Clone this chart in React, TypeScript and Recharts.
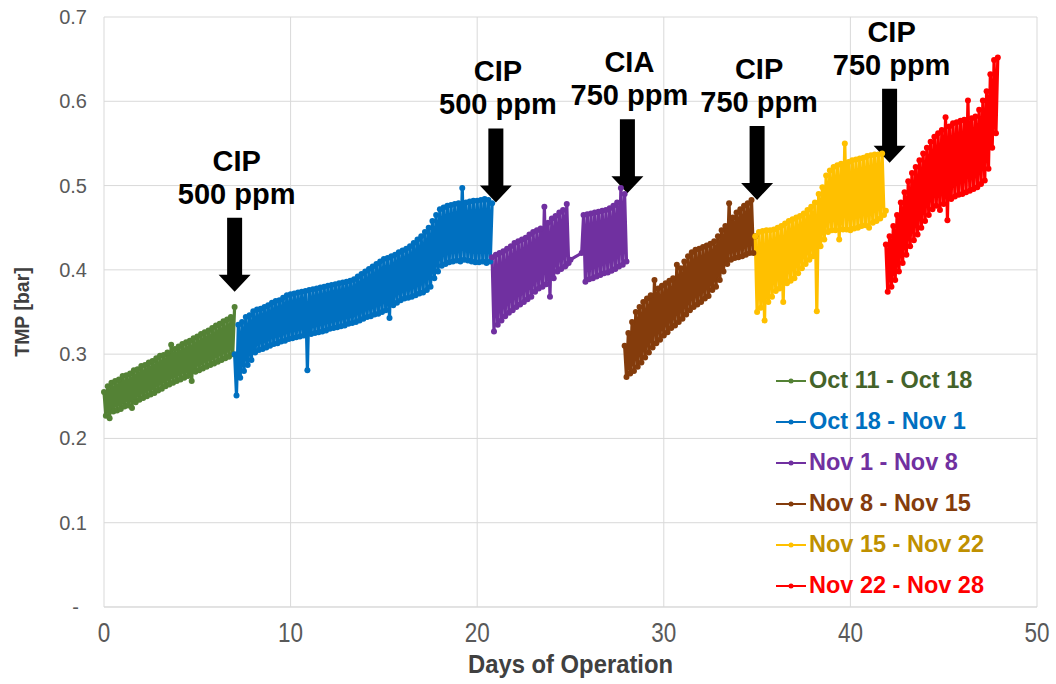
import React from 'react';
import { LineChart, Line, XAxis, YAxis, CartesianGrid, Legend, ReferenceDot } from 'recharts';

// readings are plotted every 0.1 day
const STEP = 0.1;

const greenStart = 0;
const greenTmp = [
  0.255, 0.227, 0.262, 0.224, 0.266, 0.232, 0.268, 0.233, 0.27, 0.235,
  0.274, 0.238, 0.275, 0.239, 0.277, 0.236, 0.281, 0.243, 0.282, 0.246,
  0.286, 0.248, 0.287, 0.25, 0.29, 0.252, 0.292, 0.254, 0.295, 0.257,
  0.298, 0.259, 0.299, 0.262, 0.302, 0.264, 0.311, 0.266, 0.306, 0.268,
  0.309, 0.27, 0.312, 0.272, 0.314, 0.274, 0.316, 0.268, 0.319, 0.279,
  0.321, 0.281, 0.324, 0.283, 0.326, 0.285, 0.328, 0.287, 0.331, 0.289,
  0.334, 0.291, 0.336, 0.293, 0.339, 0.295, 0.341, 0.297, 0.344, 0.3,
  0.356,
];

const blueStart = 7.0;
const blueTmp = [
  0.3, 0.251, 0.335, 0.272, 0.338, 0.28, 0.344, 0.287, 0.346, 0.293,
  0.351, 0.302, 0.353, 0.305, 0.354, 0.306, 0.356, 0.308, 0.358, 0.31,
  0.361, 0.312, 0.363, 0.313, 0.364, 0.315, 0.367, 0.316, 0.37, 0.318,
  0.371, 0.319, 0.372, 0.32, 0.373, 0.321, 0.374, 0.322, 0.375, 0.281,
  0.376, 0.324, 0.377, 0.325, 0.378, 0.326, 0.379, 0.327, 0.38, 0.328,
  0.381, 0.33, 0.382, 0.331, 0.383, 0.332, 0.384, 0.333, 0.385, 0.334,
  0.386, 0.336, 0.387, 0.337, 0.389, 0.338, 0.392, 0.34, 0.395, 0.342,
  0.398, 0.344, 0.401, 0.345, 0.404, 0.347, 0.407, 0.348, 0.41, 0.35,
  0.413, 0.352, 0.414, 0.343, 0.416, 0.358, 0.418, 0.361, 0.421, 0.364,
  0.423, 0.366, 0.425, 0.367, 0.428, 0.368, 0.432, 0.37, 0.436, 0.372,
  0.44, 0.373, 0.445, 0.376, 0.45, 0.38, 0.458, 0.39, 0.465, 0.398,
  0.472, 0.405, 0.474, 0.407, 0.476, 0.409, 0.477, 0.41, 0.478, 0.411,
  0.479, 0.41, 0.497, 0.412, 0.48, 0.411, 0.481, 0.41, 0.482, 0.409,
  0.482, 0.409, 0.483, 0.41, 0.484, 0.408, 0.483, 0.41, 0.479,
];

const purpleStartA = 20.8;
const purpleTmpA = [
  0.415, 0.327, 0.418, 0.335, 0.42, 0.34, 0.422, 0.345, 0.425, 0.349,
  0.428, 0.352, 0.432, 0.356, 0.434, 0.359, 0.436, 0.362, 0.438, 0.365,
  0.442, 0.368, 0.445, 0.374, 0.447, 0.378, 0.449, 0.38, 0.475, 0.383,
  0.456, 0.368, 0.461, 0.39, 0.464, 0.398, 0.468, 0.401, 0.471, 0.404,
  0.478, 0.408, 0.412,
];
const purpleStartB = 25.6;
const purpleTmpB = [
  0.42, 0.465, 0.386, 0.466, 0.389, 0.467, 0.39, 0.468, 0.392, 0.469,
  0.394, 0.47, 0.396, 0.471, 0.397, 0.473, 0.399, 0.476, 0.401, 0.48,
  0.404, 0.497, 0.406, 0.49, 0.41,
];

const brownStart = 27.9;
const brownTmp = [
  0.31, 0.273, 0.325, 0.277, 0.338, 0.28, 0.35, 0.285, 0.356, 0.29,
  0.362, 0.296, 0.366, 0.302, 0.37, 0.308, 0.388, 0.313, 0.378, 0.317,
  0.381, 0.322, 0.384, 0.326, 0.387, 0.331, 0.39, 0.334, 0.406, 0.338,
  0.402, 0.342, 0.41, 0.347, 0.416, 0.352, 0.421, 0.356, 0.424, 0.359,
  0.425, 0.362, 0.427, 0.366, 0.429, 0.369, 0.431, 0.376, 0.434, 0.38,
  0.44, 0.388, 0.447, 0.398, 0.452, 0.407, 0.479, 0.412, 0.462, 0.414,
  0.468, 0.415, 0.472, 0.416, 0.476, 0.418, 0.479, 0.42, 0.483, 0.42,
  0.44,
];

const yellowStart = 34.9;
const yellowTmp = [
  0.44, 0.35, 0.445, 0.355, 0.446, 0.34, 0.447, 0.362, 0.447, 0.368,
  0.448, 0.375, 0.45, 0.378, 0.452, 0.362, 0.455, 0.384, 0.458, 0.387,
  0.46, 0.39, 0.462, 0.396, 0.464, 0.402, 0.467, 0.407, 0.471, 0.412,
  0.475, 0.416, 0.48, 0.351, 0.49, 0.428, 0.498, 0.436, 0.512, 0.445,
  0.518, 0.447, 0.522, 0.447, 0.524, 0.436, 0.526, 0.448, 0.55, 0.448,
  0.528, 0.447, 0.53, 0.449, 0.531, 0.45, 0.532, 0.452, 0.533, 0.453,
  0.535, 0.45, 0.536, 0.456, 0.537, 0.458, 0.537, 0.461, 0.538, 0.465,
  0.47,
];

const redStart = 41.9;
const redTmp = [
  0.43, 0.374, 0.44, 0.38, 0.452, 0.388, 0.465, 0.398, 0.48, 0.408,
  0.492, 0.418, 0.505, 0.428, 0.515, 0.435, 0.522, 0.442, 0.53, 0.45,
  0.538, 0.458, 0.545, 0.465, 0.552, 0.472, 0.558, 0.476, 0.562, 0.471,
  0.566, 0.478, 0.581, 0.459, 0.57, 0.484, 0.574, 0.487, 0.575, 0.489,
  0.577, 0.49, 0.578, 0.492, 0.601, 0.494, 0.58, 0.496, 0.582, 0.498,
  0.59, 0.502, 0.601, 0.506, 0.612, 0.52, 0.632, 0.545, 0.649, 0.562,
  0.652,
];

const periodNames = [
  'Oct 11 - Oct 18',
  'Oct 18 - Nov 1',
  'Nov 1 - Nov 8',
  'Nov 8 - Nov 15',
  'Nov 15 - Nov 22',
  'Nov 22 - Nov 28',
];

const xTicks = [0, 10, 20, 30, 40, 50];
const yTicks = [0, 0.1, 0.2, 0.3, 0.4, 0.5, 0.6, 0.7];

// cleaning events: arrow tip position and label
const cleanDays = [7.0, 21.0, 28.05, 35.0, 42.1];
const cleanTips = [0.374, 0.48, 0.491, 0.483, 0.527];
const cleanTitles = ['CIP', 'CIP', 'CIA', 'CIP', 'CIP'];
const cleanDoses = ['500 ppm', '500 ppm', '750 ppm', '750 ppm', '750 ppm'];

const FONT = '"Liberation Sans", Arial, sans-serif';

const toPoints = (start: number, values: number[]) =>
  values.map((tmp, i) => ({ day: Math.round((start + i * STEP) * 100) / 100, tmp }));

const SERIES = [
  { name: periodNames[0], color: '#548235', text: '#44632A', data: toPoints(greenStart, greenTmp) },
  { name: periodNames[1], color: '#0070C0', text: '#0070C0', data: toPoints(blueStart, blueTmp) },
  {
    name: periodNames[2],
    color: '#7030A0',
    text: '#7030A0',
    data: [...toPoints(purpleStartA, purpleTmpA), ...toPoints(purpleStartB, purpleTmpB)],
  },
  { name: periodNames[3], color: '#843C0C', text: '#843C0C', data: toPoints(brownStart, brownTmp) },
  { name: periodNames[4], color: '#FFC000', text: '#BF9000', data: toPoints(yellowStart, yellowTmp) },
  { name: periodNames[5], color: '#FF0000', text: '#FF0000', data: toPoints(redStart, redTmp) },
];

const DayTick = ({ x, y, payload }: any) => {
  const label = String(payload.value);
  return (
    <text
      x={x}
      y={y + 35}
      textAnchor="middle"
      fontSize={28}
      fontFamily={FONT}
      fill="#595959"
      textLength={label.length * 12.5}
      lengthAdjust="spacingAndGlyphs"
    >
      {label}
    </text>
  );
};

const TmpTick = ({ x, y, payload }: any) => {
  const v = payload.value as number;
  return (
    <text x={v === 0 ? x - 8 : x} y={y + 7} textAnchor="end" fontSize={20} fontFamily={FONT} fill="#595959">
      {v === 0 ? '-' : v.toFixed(1)}
    </text>
  );
};

const ArrowNote = ({ cx, cy, title, dose }: any) => {
  const top = cy - 74;
  const neck = cy - 17;
  const d = `M${cx - 7.5},${top} L${cx + 7.5},${top} L${cx + 7.5},${neck} L${cx + 16},${neck} L${cx},${cy} L${cx - 16},${neck} L${cx - 7.5},${neck} Z`;
  return (
    <g>
      <path d={d} fill="#000" />
      <text x={cx + 2} y={top - 47} textAnchor="middle" fontSize={29} fontWeight="bold" fontFamily={FONT} fill="#000">
        {title}
      </text>
      <text x={cx + 2} y={top - 14} textAnchor="middle" fontSize={29} fontWeight="bold" fontFamily={FONT} fill="#000">
        {dose}
      </text>
    </g>
  );
};

const PeriodLegend = () => (
  <div style={{ display: 'flex', flexDirection: 'column' }}>
    {SERIES.map((s) => (
      <div key={s.name} style={{ height: 41, display: 'flex', alignItems: 'center' }}>
        <svg width={32} height={10}>
          <line x1={1} y1={5} x2={31} y2={5} stroke={s.color} strokeWidth={2} />
          <circle cx={16} cy={5} r={2.5} fill={s.color} />
        </svg>
        <span style={{ marginLeft: 2, color: s.text, fontWeight: 'bold', fontSize: 23.5, fontFamily: FONT, whiteSpace: 'nowrap' }}>
          {s.name}
        </span>
      </div>
    ))}
  </div>
);

export default function App() {
  return (
    <div style={{ position: 'absolute', left: 0, top: 0, background: '#fff' }}>
      <LineChart width={1056} height={684} margin={{ top: 17, right: 19, bottom: 0, left: 0 }}>
        <CartesianGrid stroke="#d9d9d9" strokeWidth={1} />
        <XAxis
          type="number"
          dataKey="day"
          domain={[0, 50]}
          ticks={xTicks}
          height={77}
          axisLine={{ stroke: '#d9d9d9' }}
          tickLine={false}
          tickSize={0}
          tickMargin={0}
          tick={<DayTick />}
          label={{
            content: ({ viewBox }: any) => (
              <text
                x={viewBox.x + viewBox.width / 2}
                y={viewBox.y + 66}
                textAnchor="middle"
                fontSize={25}
                fontWeight="bold"
                fontFamily={FONT}
                fill="#404040"
                textLength={205}
                lengthAdjust="spacingAndGlyphs"
              >
                Days of Operation
              </text>
            ),
          }}
        />
        <YAxis
          type="number"
          domain={[0, 0.7]}
          ticks={yTicks}
          width={104}
          axisLine={false}
          tickLine={false}
          tickSize={0}
          tickMargin={17}
          tick={<TmpTick />}
          label={{
            content: ({ viewBox }: any) => {
              const cy = viewBox.y + viewBox.height / 2;
              return (
                <text
                  x={22}
                  y={cy}
                  transform={`rotate(-90, 22, ${cy})`}
                  textAnchor="middle"
                  dominantBaseline="central"
                  fontSize={19.5}
                  fontWeight="bold"
                  fontFamily={FONT}
                  fill="#404040"
                >
                  TMP [bar]
                </text>
              );
            },
          }}
        />
        {SERIES.map((s) => (
          <Line
            key={s.name}
            data={s.data}
            dataKey="tmp"
            name={s.name}
            type="linear"
            stroke={s.color}
            strokeWidth={3.2}
            dot={{ r: 3, fill: s.color, stroke: s.color, strokeWidth: 0 }}
            activeDot={false}
            isAnimationActive={false}
          />
        ))}
        {cleanDays.map((d, i) => (
          <ReferenceDot
            key={`clean-${i}`}
            x={d}
            y={cleanTips[i]}
            r={1}
            shape={(p: any) => <ArrowNote cx={p.cx} cy={p.cy} title={cleanTitles[i]} dose={cleanDoses[i]} />}
          />
        ))}
        <Legend
          layout="horizontal"
          verticalAlign="middle"
          align="center"
          content={<PeriodLegend />}
          wrapperStyle={{ left: 775, top: 360, width: 270 }}
        />
      </LineChart>
    </div>
  );
}
